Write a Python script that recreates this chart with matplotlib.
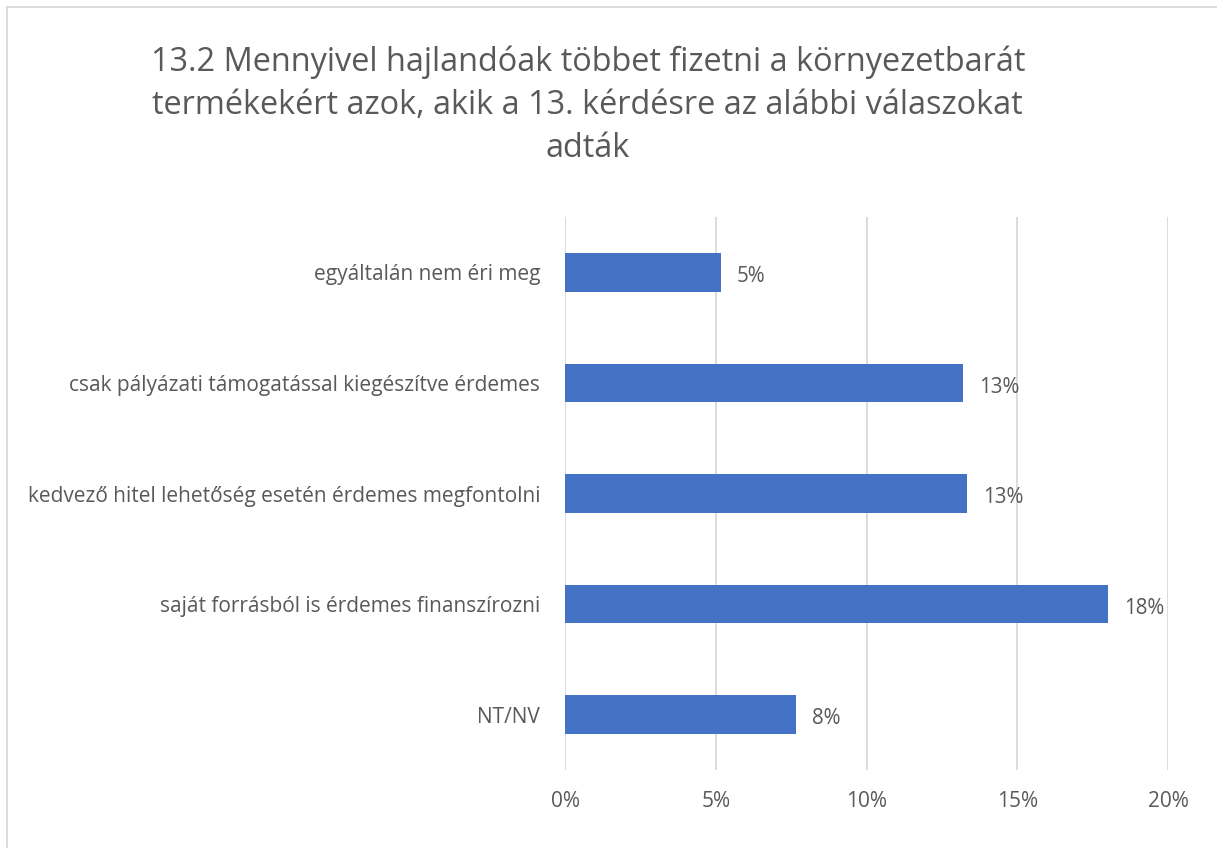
"""Horizontal bar chart: willingness to pay more for eco-friendly products"""

import matplotlib.pyplot as plt
from matplotlib.patches import Rectangle

categories = ['egyáltalán nem éri meg',
              'csak pályázati támogatással kiegészítve érdemes',
              'kedvező hitel lehetőség esetén érdemes megfontolni',
              'saját forrásból is érdemes finanszírozni',
              'NT/NV']
values = [5.17, 13.2, 13.32, 18.0, 7.65]
value_labels = ['5%', '13%', '13%', '18%', '8%']
x_ticks = [0, 5, 10, 15, 20]
x_tick_labels = ['0%', '5%', '10%', '15%', '20%']

title = ('13.2 Mennyivel hajlandóak többet fizetni a környezetbarát\n'
         'termékekért azok, akik a 13. kérdésre az alábbi válaszokat\n'
         'adták')

plt.rcParams['font.family'] = ['Open Sans', 'DejaVu Sans']
grey = '#595959'

fig = plt.figure(figsize=(12.17, 8.48), dpi=100)
ax = fig.add_axes([0.4643, 0.092, 0.4955, 0.652])

y = list(range(len(categories)))[::-1]
ax.barh(y, values, height=0.35, color='#4472C4', zorder=3)
for yi, v, lab in zip(y, values, value_labels):
    ax.annotate(lab, (v, yi), xytext=(11.5, -3), textcoords='offset points',
                va='center', ha='left', fontsize=14.8, color=grey)

ax.set_xlim(0, 20)
ax.set_ylim(-0.5, 4.5)
ax.set_xticks(x_ticks)
ax.set_xticklabels(x_tick_labels)
ax.set_yticks(y)
ax.set_yticklabels(categories)
ax.tick_params(axis='both', length=0, labelsize=15, colors=grey)
ax.tick_params(axis='x', pad=15)
ax.tick_params(axis='y', pad=18)
ax.grid(axis='x', color='#D9D9D9', linewidth=1.3, zorder=0)
for s in ax.spines.values():
    s.set_visible(False)

fig.text(0.483, 0.946, title, ha='center', va='top', fontsize=23.4,
         color=grey, linespacing=1.39)

fig.patches.append(Rectangle((7 / 1217, -0.01), 1.05, 1 - 7 / 848 + 0.01,
                             transform=fig.transFigure, fill=False,
                             edgecolor='#D9D9D9', linewidth=1.3))

fig.savefig('out.png', dpi=100)
